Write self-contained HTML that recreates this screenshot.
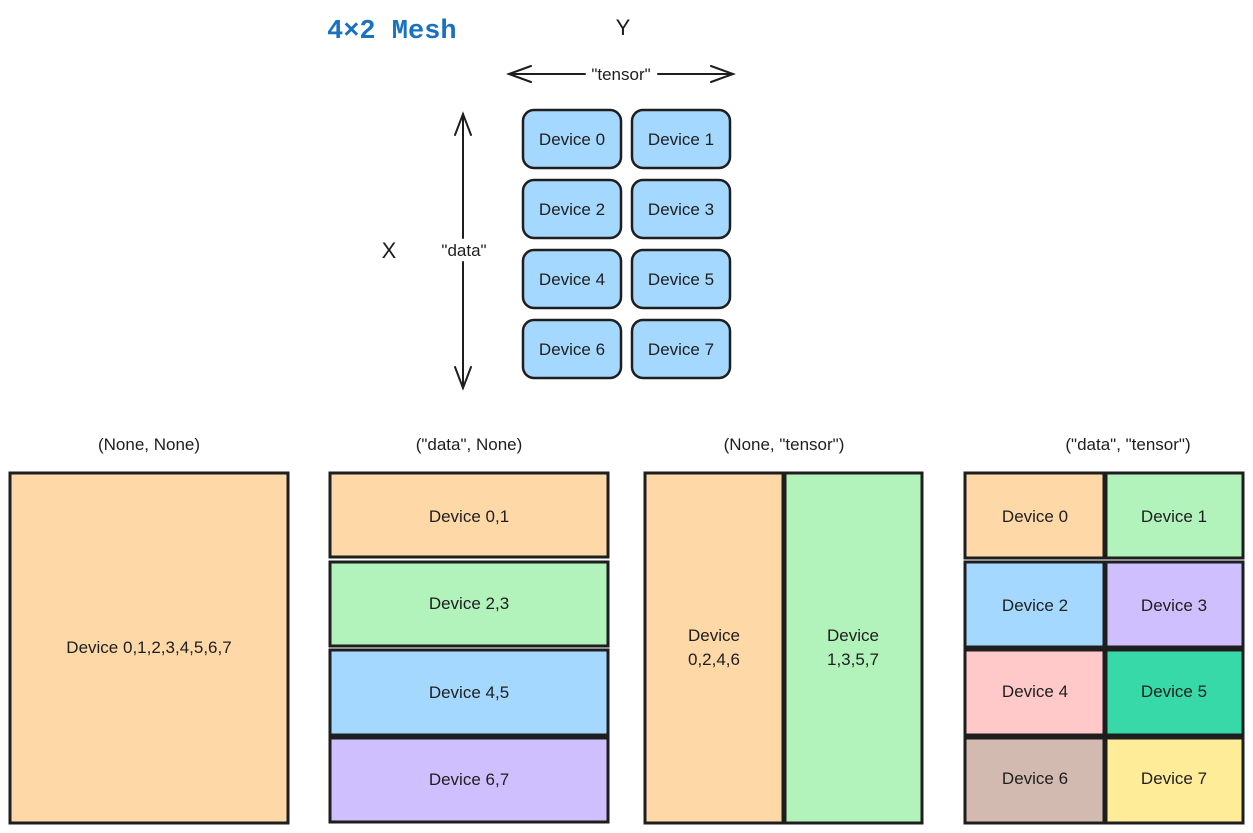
<!DOCTYPE html>
<html><head><meta charset="utf-8"><style>
html,body{margin:0;padding:0;background:#fff;}
svg{display:block;}
text{font-family:"Liberation Sans",sans-serif;fill:#1e1e1e;}
</style></head><body>
<svg width="1253" height="833" viewBox="0 0 1253 833" xmlns="http://www.w3.org/2000/svg">
<text x="327" y="38" style="font-family:'Liberation Mono',monospace;font-weight:bold;font-size:27px;fill:#1971c2">4×2 Mesh</text>
<text x="623" y="35" text-anchor="middle" font-size="22">Y</text>
<text x="389" y="258" text-anchor="middle" font-size="22">X</text>
<g stroke="#1e1e1e" stroke-width="2" fill="none" stroke-linecap="round">
<line x1="509" y1="74" x2="585" y2="74"/><line x1="658" y1="74" x2="733" y2="74"/>
<polyline points="531,66 509,74 531,82"/><polyline points="711,66 733,74 711,82"/>
<line x1="463" y1="114" x2="463" y2="238"/><line x1="463" y1="262" x2="463" y2="388"/>
<polyline points="455,135 463,114 471,135"/><polyline points="455,367 463,388 471,367"/>
</g>
<text x="621" y="80" text-anchor="middle" font-size="17">"tensor"</text>
<text x="464" y="256" text-anchor="middle" font-size="17">"data"</text>
<g stroke="#1e1e1e" stroke-width="2.5" fill="#a5d8ff">
<rect x="523" y="110" width="98" height="58" rx="11"/><rect x="632" y="110" width="98" height="58" rx="11"/>
<rect x="523" y="180" width="98" height="58" rx="11"/><rect x="632" y="180" width="98" height="58" rx="11"/>
<rect x="523" y="250" width="98" height="58" rx="11"/><rect x="632" y="250" width="98" height="58" rx="11"/>
<rect x="523" y="320" width="98" height="58" rx="11"/><rect x="632" y="320" width="98" height="58" rx="11"/>
</g>
<g font-size="17" text-anchor="middle">
<text x="572" y="145">Device 0</text><text x="681" y="145">Device 1</text>
<text x="572" y="215">Device 2</text><text x="681" y="215">Device 3</text>
<text x="572" y="285">Device 4</text><text x="681" y="285">Device 5</text>
<text x="572" y="355">Device 6</text><text x="681" y="355">Device 7</text>
</g>
<g font-size="17" text-anchor="middle">
<text x="149" y="450">(None, None)</text>
<text x="469" y="450">("data", None)</text>
<text x="784" y="450">(None, "tensor")</text>
<text x="1128" y="450">("data", "tensor")</text>
</g>
<g stroke="#1e1e1e" stroke-width="3">
<rect x="10" y="473" width="278" height="350" fill="#ffd8a8"/>
<rect x="330" y="473" width="278" height="84" fill="#ffd8a8"/>
<rect x="330" y="562" width="278" height="84" fill="#b2f2bb"/>
<rect x="330" y="650" width="278" height="85" fill="#a5d8ff"/>
<rect x="330" y="738" width="278" height="84" fill="#d0bfff"/>
<rect x="645" y="473" width="138" height="350" fill="#ffd8a8"/>
<rect x="785" y="473" width="137" height="350" fill="#b2f2bb"/>
<rect x="965" y="473" width="139" height="85" fill="#ffd8a8"/>
<rect x="1106" y="473" width="137" height="85" fill="#b2f2bb"/>
<rect x="965" y="562" width="139" height="85" fill="#a5d8ff"/>
<rect x="1106" y="562" width="137" height="85" fill="#d0bfff"/>
<rect x="965" y="650" width="139" height="85" fill="#ffc9c9"/>
<rect x="1106" y="650" width="137" height="85" fill="#38d9a9"/>
<rect x="965" y="738" width="139" height="85" fill="#d2bab0"/>
<rect x="1106" y="738" width="137" height="85" fill="#ffec99"/>
</g>
<g font-size="17" text-anchor="middle">
<text x="149" y="653">Device 0,1,2,3,4,5,6,7</text>
<text x="469" y="522">Device 0,1</text>
<text x="469" y="609">Device 2,3</text>
<text x="469" y="698">Device 4,5</text>
<text x="469" y="785">Device 6,7</text>
<text x="714" y="641">Device</text><text x="714" y="665">0,2,4,6</text>
<text x="853" y="641">Device</text><text x="853" y="665">1,3,5,7</text>
<text x="1035" y="522">Device 0</text><text x="1174" y="522">Device 1</text>
<text x="1035" y="611">Device 2</text><text x="1174" y="611">Device 3</text>
<text x="1035" y="697">Device 4</text><text x="1174" y="697">Device 5</text>
<text x="1035" y="784">Device 6</text><text x="1174" y="784">Device 7</text>
</g>
</svg>
</body></html>
